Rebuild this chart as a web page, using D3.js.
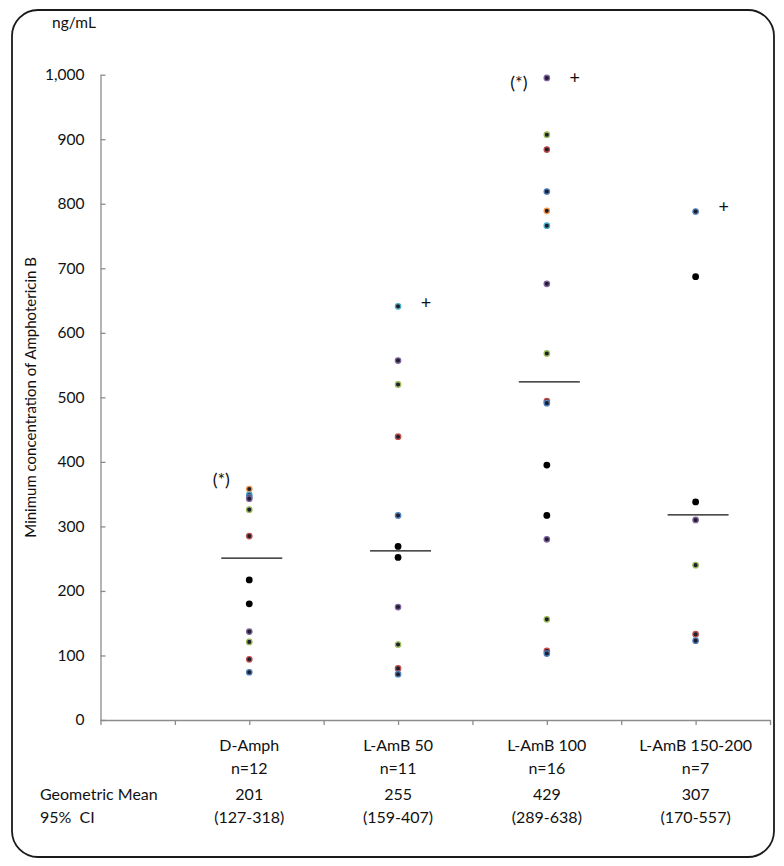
<!DOCTYPE html>
<html><head><meta charset="utf-8">
<script src="https://cdn.jsdelivr.net/npm/d3@7"></script>
<style>
html,body{margin:0;padding:0;background:#fff;}
svg{display:block;}
text{font-family:Lato,"Noto Sans",sans-serif;fill:#111;}
</style></head><body>
<svg id="chart" width="784" height="866"></svg>
<script>
// ---- data ----
const categories = ["D-Amph","L-AmB 50","L-AmB 100","L-AmB 150-200"];
const categoryN = ["n=12","n=11","n=16","n=7"];
const categoryPos = [2,4,6,8];
const geoMean = ["201","255","429","307"];
const ci95 = ["(127-318)","(159-407)","(289-638)","(170-557)"];
const medianLine = [251,262,524,318];
const yTicks = [0,100,200,300,400,500,600,700,800,900,1000];

const dAmphValues  = [358,349,346,343,326,285,217,180,137,121,94,74];
const dAmphColors  = ["orange","cyan","blue","purple","green","red","black","black","purple","green","red","blue"];
const lamb50Values = [641,557,520,439,317,269,252,175,117,80,71];
const lamb50Colors = ["cyan","purple","green","red","blue","black","black","purple","green","red","blue"];
const lamb100Values = [995,907,884,819,789,766,676,568,494,491,395,317,280,156,107,103];
const lamb100Colors = ["purple","green","red","blue","orange","cyan","purple","green","red","blue","black","black","purple","green","red","blue"];
const lamb150Values = [788,687,338,310,240,133,123];
const lamb150Colors = ["blue","black","black","purple","green","red","blue"];

const starNotes = [{cat:0, value:372},{cat:2, value:988}];
const plusNotes = [{cat:1, value:646},{cat:2, value:995},{cat:3, value:795}];

const palette = {orange:"#F79646",cyan:"#4BACC6",blue:"#4F81BD",purple:"#8064A2",green:"#9BBB59",red:"#C0504D",black:"#000"};

// ---- build ----
const groups = [
  {values:dAmphValues, colors:dAmphColors},
  {values:lamb50Values, colors:lamb50Colors},
  {values:lamb100Values, colors:lamb100Colors},
  {values:lamb150Values, colors:lamb150Colors}
];
const points = [];
groups.forEach((g,i)=>g.values.forEach((v,j)=>points.push({cat:i, value:v, color:g.colors[j]})));

const svg = d3.select("#chart");
const x = d3.scaleLinear().domain([0,9]).range([100.5,770]);
const y = d3.scaleLinear().domain([0,1000]).range([720,74.7]);

// frame
svg.append("rect").attr("x",12).attr("y",10).attr("width",762).attr("height",847)
  .attr("rx",26).attr("ry",26).attr("fill","none").attr("stroke","#1a1a1a").attr("stroke-width",1.8);

// y axis
const yAxis = svg.append("g").attr("transform","translate(100.5,0)")
  .call(d3.axisLeft(y).tickValues(yTicks).tickSizeInner(-5).tickSizeOuter(0).tickPadding(16).tickFormat(d3.format(",")));
yAxis.select(".domain").attr("stroke","#8c8c8c").attr("stroke-width",1.3);
yAxis.selectAll(".tick line").attr("stroke","#8c8c8c").attr("stroke-width",1.3);
yAxis.selectAll(".tick text").attr("font-size",15.5).attr("font-family","Lato").attr("fill","#111");

// x axis
const xAxis = svg.append("g").attr("transform","translate(0,720)")
  .call(d3.axisBottom(x).tickValues(d3.range(0,10)).tickSizeInner(5).tickSizeOuter(0).tickFormat(""));
xAxis.select(".domain").attr("stroke","#8c8c8c").attr("stroke-width",1.3);
xAxis.selectAll(".tick line").attr("stroke","#8c8c8c").attr("stroke-width",1.3);

// unit
svg.append("text").attr("x",52).attr("y",28).attr("font-size",15.5).text("ng/mL");

// y title
svg.append("text").attr("transform","translate(36,"+y(500)+") rotate(-90)")
  .attr("text-anchor","middle").attr("font-size",15).text("Minimum concentration of Amphotericin B");

// median lines
svg.append("g").selectAll("line").data(medianLine).join("line")
  .attr("x1",(d,i)=>x(categoryPos[i])-28).attr("x2",(d,i)=>x(categoryPos[i])+33)
  .attr("y1",d=>y(d)).attr("y2",d=>y(d)).attr("stroke","#111").attr("stroke-width",1.3);

// points
svg.append("g").selectAll("circle").data(points).join("circle")
  .attr("cx",d=>x(categoryPos[d.cat])).attr("cy",d=>y(d.value))
  .attr("r",d=>d.color==="black"?3.4:2.7)
  .attr("fill",d=>d.color==="black"?"#000":"#1e1e2c")
  .attr("stroke",d=>d.color==="black"?"none":palette[d.color])
  .attr("stroke-width",1.3);

// notes
svg.append("g").selectAll("text").data(starNotes).join("text")
  .attr("x",d=>x(categoryPos[d.cat])-28).attr("y",d=>y(d.value)).attr("dy","0.35em")
  .attr("text-anchor","middle").attr("font-size",18).text("(*)");
svg.append("g").selectAll("text").data(plusNotes).join("text")
  .attr("x",d=>x(categoryPos[d.cat])+28).attr("y",d=>y(d.value)).attr("dy","0.35em")
  .attr("text-anchor","middle").attr("font-size",18).text("+");

// category labels
const lab = svg.append("g").attr("font-size",16);
categories.forEach((c,i)=>{
  lab.append("text").attr("x",x(categoryPos[i])).attr("y",751).attr("text-anchor","middle").text(c);
  lab.append("text").attr("x",x(categoryPos[i])).attr("y",774).attr("text-anchor","middle").text(categoryN[i]);
  lab.append("text").attr("x",x(categoryPos[i])).attr("y",800).attr("text-anchor","middle").text(geoMean[i]);
  lab.append("text").attr("x",x(categoryPos[i])).attr("y",823).attr("text-anchor","middle").text(ci95[i]);
});
lab.append("text").attr("x",40).attr("y",800).text("Geometric Mean");
lab.append("text").attr("x",40).attr("y",823).attr("xml:space","preserve").text("95%  CI");
</script>
</body></html>
